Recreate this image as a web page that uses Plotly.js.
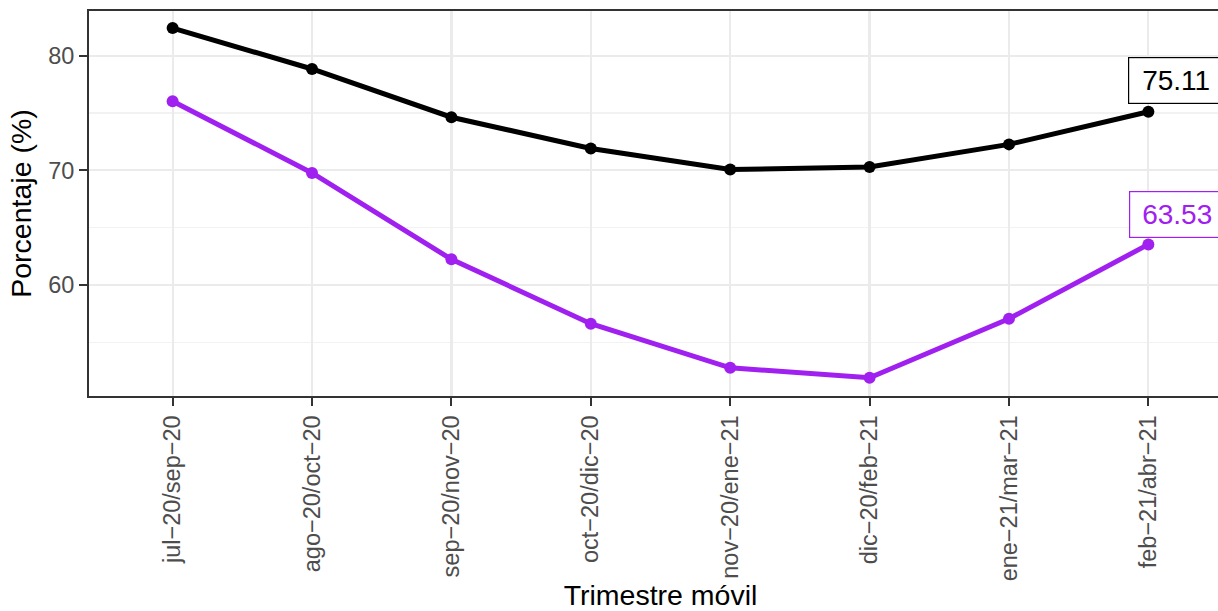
<!DOCTYPE html>
<html>
<head>
<meta charset="utf-8">
<script src="https://cdn.plot.ly/plotly-3.0.1.min.js"></script>
<style>
html,body{margin:0;padding:0;overflow:hidden;background:#fff;}
#chart{width:1240px;height:611px;}
</style>
</head>
<body>
<div id="chart"></div>
<script>
const categories = ["jul\u221220/sep\u221220","ago\u221220/oct\u221220","sep\u221220/nov\u221220","oct\u221220/dic\u221220","nov\u221220/ene\u221221","dic\u221220/feb\u221221","ene\u221221/mar\u221221","feb\u221221/abr\u221221"];
const serieNegra = [82.41, 78.84, 74.63, 71.9, 70.06, 70.29, 72.26, 75.11];
const serieMorada = [76.03, 69.77, 62.23, 56.61, 52.76, 51.89, 57.04, 63.53];
const yTicks = [60, 70, 80];

const idx = categories.map((c,i)=>i);
const font = "Liberation Sans, Arial, Helvetica, sans-serif";

const traces = [
  {x: idx, y: serieNegra, mode: 'lines+markers', line: {color: '#000000', width: 5}, marker: {color: '#000000', size: 12}, hoverinfo: 'skip'},
  {x: idx, y: serieMorada, mode: 'lines+markers', line: {color: '#A020F0', width: 5}, marker: {color: '#A020F0', size: 12}, hoverinfo: 'skip'}
];

const last = idx.length - 1;
const layout = {
  width: 1240, height: 611,
  margin: {l: 89, r: 8, t: 11, b: 215},
  paper_bgcolor: '#ffffff', plot_bgcolor: '#ffffff',
  showlegend: false,
  font: {family: font, color: '#000000'},
  xaxis: {
    range: [-0.6, 7.6], tickmode: 'array', tickvals: idx, ticktext: categories,
    tickangle: -90, tickfont: {size: 23.5, color: '#4D4D4D'},
    ticks: 'outside', ticklen: 8, tickwidth: 2, tickcolor: '#333333',
    showgrid: true, gridcolor: '#EBEBEB', gridwidth: 2.2,
    showline: true, linecolor: '#333333', linewidth: 2, mirror: true,
    zeroline: false, automargin: false,
    title: {text: 'Trimestre móvil', font: {size: 28.5, color: '#000000'}, standoff: 12}
  },
  yaxis: {
    range: [50.3, 83.9], tickmode: 'array', tickvals: yTicks, ticktext: yTicks.map(String),
    tickfont: {size: 23.5, color: '#4D4D4D'},
    ticks: 'outside', ticklen: 8, tickwidth: 2, tickcolor: '#333333',
    showgrid: true, gridcolor: '#EBEBEB', gridwidth: 2.2,
    minor: {tickmode: 'linear', tick0: 55, dtick: 10, showgrid: true, gridcolor: '#F2F2F2', gridwidth: 1.1, ticks: ''},
    showline: true, linecolor: '#333333', linewidth: 2, mirror: true,
    zeroline: false, automargin: false,
    title: {text: 'Porcentaje (%)', font: {size: 28.5, color: '#000000'}, standoff: 8}
  },
  annotations: [
    {x: last, y: serieNegra[last], xref: 'x', yref: 'y', text: serieNegra[last].toFixed(2), showarrow: false,
     xshift: 28, yshift: 31, width: 80, align: 'center', font: {size: 28, color: '#000000', family: font},
     bgcolor: '#ffffff', bordercolor: '#000000', borderwidth: 1.2, borderpad: 7},
    {x: last, y: serieMorada[last], xref: 'x', yref: 'y', text: serieMorada[last].toFixed(2), showarrow: false,
     xshift: 29, yshift: 30, width: 80, align: 'center', font: {size: 28, color: '#A020F0', family: font},
     bgcolor: '#ffffff', bordercolor: '#A020F0', borderwidth: 1.2, borderpad: 7}
  ]
};

Plotly.newPlot('chart', traces, layout, {displayModeBar: false, staticPlot: true});
</script>
</body>
</html>
